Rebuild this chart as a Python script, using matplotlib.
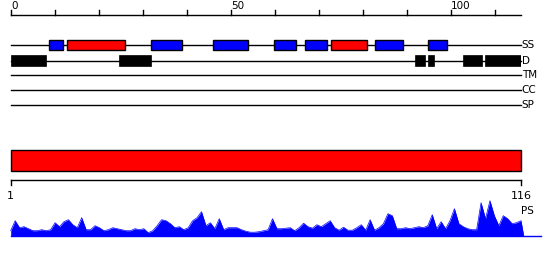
import matplotlib
matplotlib.use("Agg")
import matplotlib.pyplot as plt
import numpy as np

# ---------------- data ----------------
seq_len = 116
ruler_ticks = list(range(0, 117, 10))
ruler_labels = {0: "0", 50: "50", 100: "100"}

track_names = ["SS", "D", "TM", "CC", "SP"]

ss_start = [8.8, 12.9, 31.8, 45.9, 59.8, 66.9, 72.8, 82.8, 94.9]
ss_end = [11.8, 26.0, 38.9, 54.0, 64.9, 72.0, 81.1, 89.1, 99.1]
ss_type = ["H", "E", "H", "H", "H", "H", "E", "H", "H"]

dis_start = [0.0, 24.7, 91.9, 94.8, 102.8, 107.8]
dis_end = [8.1, 31.9, 94.1, 96.2, 107.1, 116.0]

domain_start = [0]
domain_end = [116]

ps_residues = list(range(1, 117))
ps_values = [5, 15, 8, 9, 7, 5, 5, 6, 5, 6,
             13, 9, 14, 16, 11, 8, 18, 6, 6, 10,
             8, 5, 6, 8, 7, 6, 5, 5, 7, 6,
             7, 3, 5, 10, 16, 15, 12, 8, 9, 6,
             8, 15, 18, 24, 10, 13, 7, 17, 6, 8,
             8, 8, 6, 4.5, 3.5, 3.5, 4, 5, 6, 17,
             7, 7, 7.5, 8, 5, 8, 12.5, 9, 7.5, 11,
             9, 12, 15, 8, 5.5, 8.5, 5.5, 5.5, 8, 11,
             5.5, 16, 5.5, 8, 12, 22, 20, 7, 7, 8,
             7, 8, 9, 8, 10, 21, 7, 14, 7, 15,
             27, 12, 9, 7, 6, 6, 33, 17, 35, 20,
             10, 20, 17, 12, 13, 15]

# ---------------- figure ----------------
W, H = 550, 260
fig = plt.figure(figsize=(W / 100, H / 100), dpi=100)
x0 = 10.7 / W
wd = (521 - 10.7) / W

ax = fig.add_axes([x0, 0, wd, 1])
ax.set_xlim(0, seq_len)
ax.set_ylim(H, 0)
ax.axis("off")

lw = 1.0
fs = 7.5

# top ruler
ruler_y = 14.8
ax.plot([0, seq_len], [ruler_y, ruler_y], color="black", lw=lw, clip_on=False)
for t in ruler_ticks:
    ax.plot([t, t], [ruler_y, ruler_y - 4.5], color="black", lw=lw, clip_on=False)
    if t in ruler_labels:
        ax.text(t + 0.1, ruler_y - 4.2, ruler_labels[t], ha="left", va="bottom",
                fontsize=fs, color="black")

# tracks
track_y = [45.0, 60.5, 75.3, 90.3, 105.3]
for name, y in zip(track_names, track_y):
    ax.plot([0, seq_len], [y, y], color="black", lw=lw, clip_on=False, zorder=1)
    ax.text(seq_len + 0.15, y, name, ha="left", va="center", fontsize=fs)

box_h = 10.4
ss_colors = {"H": "#0000ff", "E": "#ff0000"}
for s, e, t in zip(ss_start, ss_end, ss_type):
    ax.bar(x=s, height=box_h, width=e - s, bottom=track_y[0] - box_h / 2, align="edge",
           color=ss_colors[t], edgecolor="black", linewidth=lw, zorder=2)
for s, e in zip(dis_start, dis_end):
    ax.bar(x=s, height=box_h, width=e - s, bottom=track_y[1] - box_h / 2, align="edge",
           color="black", edgecolor="black", linewidth=0.5, zorder=2)

# domain bar
for s, e in zip(domain_start, domain_end):
    ax.bar(x=s, height=20.4, width=e - s, bottom=150.2, align="edge",
           color="#ff0000", edgecolor="black", linewidth=lw, zorder=2, clip_on=False)

# bottom ruler + profile axes (residue coordinates 1..116)
axp = fig.add_axes([x0, (H - 235.7) / H, wd, 50 / H])
axp.set_xlim(1, seq_len)
axp.set_ylim(0, 50)
axp.axis("off")

by = 55.4  # bottom ruler height above profile baseline (px)
axp.plot([1, seq_len], [by, by], color="black", lw=lw, clip_on=False)
for t in (1, seq_len):
    axp.plot([t, t], [by, by - 4.8], color="black", lw=lw, clip_on=False)
    axp.text(t, by - 15.4, str(t), ha="center", va="center", fontsize=8, clip_on=False)
axp.text(seq_len + 0.1, 24.8, "PS", ha="left", va="center", fontsize=fs, clip_on=False)

px = list(ps_residues) + [ps_residues[-1] + 0.6]
py = list(ps_values) + [0]
axp.fill_between(px, 0, py, color="#0000ff", lw=0, clip_on=False)
axp.plot(px, py, color="#0000ff", lw=0.5, clip_on=False)
axp.plot([1, seq_len + 4.5], [0, 0], color="#0000ff", lw=lw, clip_on=False)

fig.savefig("out.png", dpi=100)
